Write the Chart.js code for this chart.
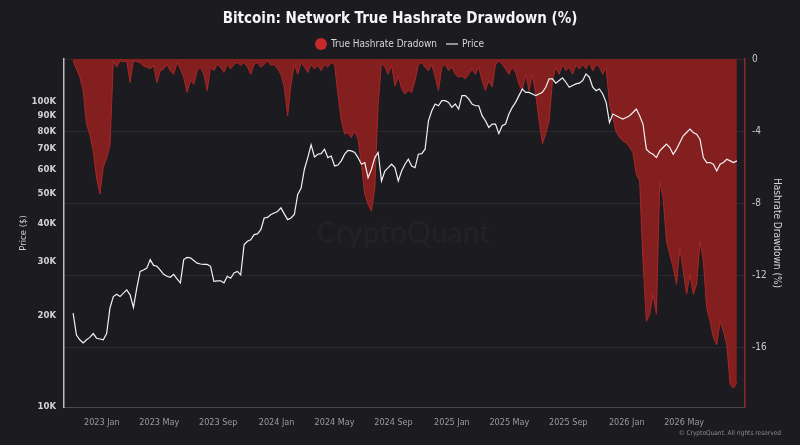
<!DOCTYPE html>
<html>
<head>
<meta charset="utf-8">
<script src="https://cdn.jsdelivr.net/npm/chart.js@4.4.1/dist/chart.umd.min.js"></script>
<style>
html,body{margin:0;padding:0;background:#1b1b20;}
#wrap{position:relative;width:800px;height:445px;overflow:hidden;}
#wm{position:absolute;left:0;top:213px;width:806px;text-align:center;font:500 30px Lato,'Open Sans',sans-serif;color:rgba(255,255,255,0.05);line-height:36px;}
#cp{position:absolute;right:19px;top:429px;font:6.5px 'DejaVu Sans Condensed',sans-serif;color:#8d8d8d;white-space:nowrap;}
#c{position:absolute;left:0;top:0;}
</style>
</head>
<body>
<div id="wrap">
  <div id="wm">CryptoQuant</div>
  <canvas id="c"></canvas>
  <div id="cp">© CryptoQuant. All rights reserved</div>
</div>
<script>
// ---- data (weekly samples) ----
const START_DATE = '2022-11-02';
const STEP_DAYS = 7;

const price = [
  20300, 17200, 16600, 16200, 16600, 16900, 17400, 16800, 16700, 16600,
  17400, 21100, 23000, 23400, 23000, 23600, 24200, 23300, 21200, 24500,
  27800, 28100, 28500, 30400, 29100, 28900, 28100, 27200, 26800, 26600,
  27200, 26300, 25500, 30400, 30900, 30800, 30200, 29600, 29400, 29300,
  29300, 28900, 25800, 25900, 25900, 25500, 26800, 26400, 27500, 27800,
  27100, 34000, 34900, 35300, 36700, 36900, 38100, 41600, 41800, 42700,
  43200, 43700, 44900, 42900, 41100, 41600, 42700, 49700, 52000, 60100,
  65600, 72200, 65900, 67300, 67600, 69900, 65600, 66400, 61600, 62000,
  64000, 67300, 69300, 69000, 68200, 65600, 62400, 63200, 56400, 60100,
  65600, 68200, 55000, 59300, 60800, 62400, 60800, 55000, 59300, 62400,
  64800,
  61600, 60800, 67300, 67600, 69900, 86600, 93400, 98300, 97000, 100800,
  100800, 99500, 95800, 98300, 94600, 104700, 104700, 102100, 98300, 97000,
  97000, 90000, 86600, 82400, 84500, 84500, 78600, 83400, 84500, 91100,
  95800, 99500, 104700, 110100, 107300, 107300, 106000, 104700, 106000, 107300,
  111500, 118800, 118800, 115000, 117300, 119700, 115800, 111500, 113000, 114400,
  115000,
  117300, 123300, 120300, 111500, 108700, 110100, 106000, 99500, 85500, 91100,
  90000, 88800, 87700, 88800, 90000, 92200, 94600, 90000, 84500, 69900,
  68200, 67300, 65600, 69000, 70800, 72600, 70800, 67300, 69900, 73500,
  77300, 79300, 81300, 79300, 78300, 75400, 65600, 63200, 63200, 62400,
  59300, 62400, 63200, 64800, 64000, 63200, 64000
];

const drawdown = [
  -0.1, -0.55, -1.0, -1.75, -3.6, -4.2, -5.1, -6.6, -7.5, -6.0,
  -5.5, -4.8, -0.1, -0.45, -0.1, -0.15, -0.1, -1.3, -0.1, -0.15,
  -0.2, -0.4, -0.45, -0.55, -0.35, -1.3, -0.65, -0.55, -0.3, -0.65,
  -0.85, -0.2, -0.55, -1.0, -1.85, -1.2, -1.4, -0.65, -0.45, -0.85,
  -1.75, -0.45, -0.65, -0.3, -0.45, -0.75, -0.3, -0.55, -0.3, -0.2,
  -0.35, -0.2, -0.45, -0.85, -0.3, -0.2, -0.45, -0.3, -0.1, -0.35,
  -0.3, -0.55, -0.85, -1.55, -3.15, -1.4, -0.3, -0.85, -0.2, -0.45,
  -0.75, -0.3, -0.55, -0.35, -0.65, -0.3, -0.45, -0.2, -0.3, -1.95,
  -3.4, -4.15, -4.1, -4.35, -4.0, -4.45, -5.85, -7.5, -8.05, -8.45,
  -7.15, -2.5, -0.2, -0.45, -0.85, -0.35, -1.5, -0.95, -1.65, -1.95,
  -1.75,
  -1.85, -1.2, -0.3, -0.2, -0.45, -0.65, -0.3, -1.0, -1.75, -0.45,
  -0.3, -0.65, -0.45, -0.85, -1.0, -0.95, -1.1, -0.85, -0.55, -0.85,
  -0.45, -1.2, -1.75, -1.2, -1.55, -0.3, -0.1, -0.3, -0.55, -0.85,
  -0.45, -0.75, -1.4, -1.75, -0.85, -1.75, -0.85, -1.95, -3.4, -4.7,
  -4.15, -3.4, -1.2, -0.45, -0.85, -0.3, -0.65, -0.45, -0.85, -0.35,
  -0.55,
  -0.3, -0.55, -0.2, -0.65, -0.3, -0.45, -0.85, -0.45, -2.5, -3.25,
  -4.05, -4.35, -4.55, -4.65, -4.9, -5.2, -6.4, -6.75, -11.2, -14.55,
  -14.15, -13.05, -14.15, -6.75, -7.7, -10.1, -10.85, -11.55, -12.5, -10.45,
  -11.75, -13.05, -11.95, -13.05, -12.5, -10.1, -11.2, -13.8, -14.55, -15.45,
  -15.85, -14.55, -15.1, -15.85, -18.05, -18.25, -17.95
];

const xTickMonths = ['2023-01','2023-05','2023-09','2024-01','2024-05','2024-09','2025-01','2025-05','2025-09','2026-01','2026-05'];
const monthNames = ['Jan','Feb','Mar','Apr','May','Jun','Jul','Aug','Sep','Oct','Nov','Dec'];
const priceTicks = [10000, 20000, 30000, 40000, 50000, 60000, 70000, 80000, 90000, 100000];
const drawdownTicks = [0, -4, -8, -12, -16];

// ---- helpers ----
const DAY = 864e5;
const EPOCH = Date.UTC(2023, 0, 1);
const startDay = (Date.parse(START_DATE) - EPOCH) / DAY;
const days = price.map((_, i) => startDay + i * STEP_DAYS);
const xTicks = [];
const xLabel = {};
xTickMonths.forEach(s => {
  const [y, m] = s.split('-').map(Number);
  const d = (Date.UTC(y, m - 1, 1) - EPOCH) / DAY;
  xTicks.push(d);
  xLabel[d] = y + ' ' + monthNames[m - 1];
});

const FONT = "'DejaVu Sans Condensed','DejaVu Sans',sans-serif";

new Chart(document.getElementById('c'), {
  type: 'line',
  data: {
    datasets: [
      {
        label: 'Price',
        data: days.map((d, i) => ({ x: d, y: price[i] })),
        yAxisID: 'yP',
        borderColor: '#f2f2f2',
        borderWidth: 1.2,
        pointRadius: 0,
        pointStyle: 'line',
        fill: false,
        tension: 0
      },
      {
        label: 'True Hashrate Dradown',
        data: days.map((d, i) => ({ x: d, y: drawdown[i] })),
        yAxisID: 'yD',
        borderColor: '#a82727',
        backgroundColor: '#841f20',
        borderWidth: 1,
        pointRadius: 0,
        pointStyle: 'circle',
        fill: 'origin',
        tension: 0
      }
    ]
  },
  options: {
    responsive: true,
    maintainAspectRatio: false,
    animation: false,
    layout: { padding: 0 },
    plugins: {
      title: {
        display: true,
        text: 'Bitcoin: Network True Hashrate Drawdown (%)',
        color: '#f5f5f5',
        font: { family: FONT, size: 15, weight: 'bold' },
        padding: { top: 10, bottom: 1 }
      },
      legend: {
        display: true,
        labels: {
          usePointStyle: true,
          boxHeight: 8.5,
          boxWidth: 10,
          padding: 10,
          color: '#d6d6d6',
          font: { family: FONT, size: 10 },
          sort: (a, b) => b.datasetIndex - a.datasetIndex,
          generateLabels: (chart) => {
            const items = Chart.defaults.plugins.legend.labels.generateLabels(chart);
            items.forEach(it => {
              if (it.datasetIndex === 1) { it.fillStyle = '#c42a2a'; it.strokeStyle = '#c42a2a'; it.lineWidth = 0; }
              else { it.strokeStyle = '#e8e8e8'; it.lineWidth = 1.2; }
            });
            return items;
          }
        }
      },
      tooltip: { enabled: false }
    },
    scales: {
      x: {
        type: 'linear',
        min: -79,
        max: 1343,
        grid: { display: false, drawTicks: false },
        border: { display: true, color: '#4a4a4a', width: 1 },
        afterBuildTicks: s => { s.ticks = xTicks.map(v => ({ value: v })); },
        ticks: {
          autoSkip: false, maxRotation: 0, padding: 10, color: '#9b9b9b',
          font: { family: FONT, size: 9 },
          callback: v => xLabel[v] || ''
        },
        afterFit: s => { s.height = 38; }
      },
      yP: {
        type: 'logarithmic',
        position: 'left',
        min: 10000,
        max: 138000,
        grid: { display: false, drawTicks: false },
        border: { display: true, color: '#bdbdbd', width: 1.5 },
        afterBuildTicks: s => { s.ticks = priceTicks.map(v => ({ value: v })); },
        ticks: {
          padding: 8, color: '#d2d2d2',
          font: { family: FONT, size: 9.5, weight: 'bold' },
          callback: v => (v / 1000) + 'K'
        },
        title: {
          display: true, text: 'Price ($)', color: '#d2d2d2',
          font: { family: FONT, size: 9.5 }, padding: { top: 18, bottom: 0 }
        },
        afterFit: s => { s.width = 64; }
      },
      yD: {
        type: 'linear',
        position: 'right',
        min: -19.3,
        max: 0,
        grid: { color: 'rgba(255,255,255,0.07)', drawTicks: false },
        border: { display: true, color: '#8c2a2a', width: 1.5 },
        afterBuildTicks: s => { s.ticks = drawdownTicks.map(v => ({ value: v })); },
        ticks: {
          padding: 7, color: '#c8c8c8',
          font: { family: FONT, size: 10 },
          callback: v => String(v)
        },
        title: {
          display: true, text: 'Hashrate Drawdown (%)', color: '#d2d2d2',
          font: { family: FONT, size: 10 }, padding: { top: 17, bottom: 0 }
        },
        afterFit: s => { s.width = 55; }
      }
    }
  }
});
</script>
</body>
</html>
